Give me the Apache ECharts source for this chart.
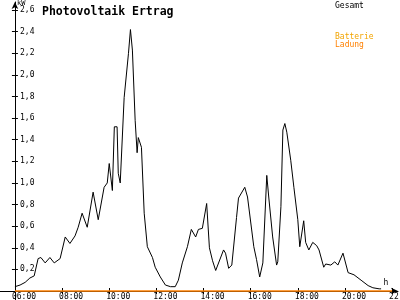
<!DOCTYPE html>
<html><head><meta charset="utf-8">
<script src="https://cdn.jsdelivr.net/npm/echarts@6/dist/echarts.min.js"></script>
<style>html,body{margin:0;padding:0;background:#fff}#c{width:400px;height:300px}</style>
</head><body><div id="c"></div>
<script>
// ---- data ----
const gesamtTimes = ['06:00','06:13','06:26','06:38','06:49','06:59','07:06','07:17','07:29','07:40','07:55','08:08','08:20','08:33','08:41','08:51','09:04','09:19','09:32','09:47','09:55','10:00','10:08','10:13','10:20','10:23','10:28','10:38','10:49','10:54','10:59','11:06','11:11','11:14','11:22','11:29','11:37','11:50','11:57','12:10','12:23','12:36','12:48','12:56','13:06','13:19','13:29','13:40','13:47','13:57','14:08','14:15','14:23','14:31','14:36','14:51','14:56','15:04','15:12','15:24','15:29','15:34','15:45','15:52','16:08','16:15','16:23','16:31','16:41','16:46','16:56','17:06','17:09','17:17','17:22','17:27','17:32','17:42','17:50','18:00','18:05','18:15','18:20','18:28','18:38','18:48','18:54','19:06','19:11','19:24','19:34','19:42','19:55','20:08','20:23','20:41','20:59','21:11','21:27','21:32'];
const gesamtValues = [0.04,0.055,0.08,0.12,0.14,0.30,0.31,0.26,0.31,0.26,0.30,0.50,0.44,0.51,0.59,0.72,0.59,0.915,0.66,0.96,1.0,1.18,0.93,1.52,1.52,1.09,1.0,1.79,2.2,2.42,2.23,1.58,1.28,1.42,1.33,0.72,0.41,0.31,0.22,0.13,0.055,0.04,0.04,0.10,0.26,0.41,0.57,0.50,0.57,0.58,0.81,0.40,0.28,0.19,0.18,0.38,0.35,0.21,0.24,0.68,0.86,0.85,0.96,0.87,0.41,0.29,0.13,0.26,1.07,0.87,0.50,0.24,0.27,0.78,1.49,1.55,1.47,1.21,0.96,0.66,0.41,0.65,0.45,0.38,0.45,0.42,0.38,0.22,0.25,0.24,0.27,0.24,0.35,0.17,0.15,0.10,0.05,0.03,0.02,0.02];
const batterieTimes = [];
const batterieValues = [];
const ladungTimes = ['06:00','22:00'];
const ladungValues = [0,0];
const xTickLabels = ['06:00','08:00','10:00','12:00','14:00','16:00','18:00','20:00','22:00'];
const yTickValues = [0.2,0.4,0.6,0.8,1.0,1.2,1.4,1.6,1.8,2.0,2.2,2.4,2.6];

// ---- helpers ----
const BASE = 360; // 06:00 in minutes
function toMin(t){const p=t.split(':').map(Number);return p[0]*60+p[1]-BASE;}
function toHHMM(m){m=Math.round(m+BASE);const h=Math.floor(m/60),mm=m%60;return String(h).padStart(2,'0')+':'+String(mm).padStart(2,'0');}
function pairs(ts,vs){return ts.map((t,i)=>[toMin(t),vs[i]]);}
const xTicks = xTickLabels.map(toMin);
const MONO = 'DejaVu Sans Mono';

const chart = echarts.init(document.getElementById('c'), null, {renderer:'canvas'});
const xCommon = {type:'value', min:-38, max:975, position:'bottom', splitLine:{show:false}};
const yCommon = {type:'value', min:-0.0833, max:2.675, position:'left', splitLine:{show:false}};
chart.setOption({
  animation:false,
  backgroundColor:'#fff',
  title:{text:'Photovoltaik Ertrag', left:37, top:1, textStyle:{fontFamily:MONO, fontSize:11.5, fontWeight:'bold', color:'#000'}},
  legend:[
    {data:[{name:'Gesamt', textStyle:{color:'#000'}}], left:325, top:-3, itemWidth:0, itemHeight:0, icon:'rect', textStyle:{fontFamily:MONO, fontSize:8}, selectedMode:false},
    {data:[{name:'Batterie', textStyle:{color:'#f2a400'}},{name:'Ladung', textStyle:{color:'#ff8000'}}], orient:'vertical', left:325, top:28, itemGap:0, itemWidth:0, itemHeight:0, icon:'rect', textStyle:{fontFamily:MONO, fontSize:8}, selectedMode:false}
  ],
  grid:{left:0, right:2, top:2, bottom:0, containLabel:false, outerBoundsMode:'none'},
  xAxis:[
    Object.assign({}, xCommon, {
      axisLine:{onZero:true, lineStyle:{color:'#000', width:1}, symbol:['none','arrow'], symbolSize:[5,7]},
      axisTick:{customValues:xTicks, length:3, lineStyle:{color:'#000'}},
      axisLabel:{customValues:xTicks, inside:true, margin:-1, align:'left', padding:[0,0,0,-3], formatter:v=>toHHMM(v), fontFamily:MONO, fontSize:8, color:'#000', hideOverlap:false},
      name:'h', nameLocation:'end', nameGap:-12,
      nameTextStyle:{fontFamily:MONO, fontSize:8, color:'#000', align:'center', verticalAlign:'bottom', padding:[0,0,4,0]}
    }),
    Object.assign({}, xCommon, {
      axisLine:{onZero:true, lineStyle:{color:'#000', opacity:0}},
      axisTick:{customValues:xTicks, inside:true, length:3, lineStyle:{color:'#000'}},
      axisLabel:{show:false}
    })
  ],
  yAxis:[
    Object.assign({}, yCommon, {
      axisLine:{onZero:true, lineStyle:{color:'#000', width:1}, symbol:['none','arrow'], symbolSize:[5,7]},
      axisTick:{customValues:yTickValues, length:3, lineStyle:{color:'#000'}},
      axisLabel:{customValues:yTickValues, inside:true, align:'left', margin:20, formatter:v=>v.toFixed(1).replace('.',','), fontFamily:MONO, fontSize:8, color:'#000'},
      name:'kW', nameLocation:'end', nameGap:-7,
      nameTextStyle:{fontFamily:MONO, fontSize:7, color:'#000', align:'left', verticalAlign:'top', padding:[0,0,0,2]}
    }),
    Object.assign({}, yCommon, {
      axisLine:{onZero:true, lineStyle:{color:'#000', opacity:0}},
      axisTick:{customValues:yTickValues, inside:true, length:3, lineStyle:{color:'#000'}},
      axisLabel:{show:false}
    })
  ],
  series:[
    {name:'Ladung', type:'line', data:pairs(ladungTimes,ladungValues), showSymbol:false, lineStyle:{color:'#ff8000', width:1.5}, itemStyle:{color:'#ff8000'}, z:3},
    {name:'Batterie', type:'line', data:pairs(batterieTimes,batterieValues), showSymbol:false, lineStyle:{color:'#f2a400', width:1}, itemStyle:{color:'#f2a400'}, z:3},
    {name:'Gesamt', type:'line', data:pairs(gesamtTimes,gesamtValues), showSymbol:false, lineStyle:{color:'#000', width:1}, itemStyle:{color:'#000'}, z:4}
  ]
});
</script></body></html>
